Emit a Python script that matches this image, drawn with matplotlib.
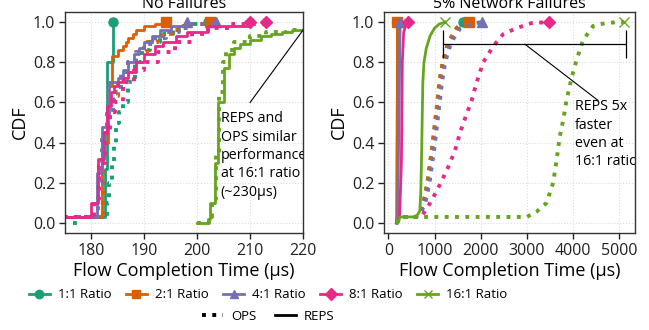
import matplotlib
matplotlib.use("Agg")
import matplotlib.pyplot as plt
from matplotlib.lines import Line2D

plt.rcParams['font.family'] = ['Open Sans', 'DejaVu Sans']

ratio_labels = ["1:1 Ratio", "2:1 Ratio", "4:1 Ratio", "8:1 Ratio", "16:1 Ratio"]
ratio_colors = ["#1b9e77", "#d95f02", "#7570b3", "#e7298a", "#66a61e"]
ratio_markers = ["o", "s", "^", "D", "x"]

# --- No Failures: step CDFs (FCT in us, CDF value)
nf_reps_x = [
    [172, 174, 182.5, 183.0, 184.0],
    [172, 174, 181.9, 183.1, 183.8, 185, 186, 186.5, 187, 187.8, 188.5, 190, 192, 194],
    [172, 174, 181.0, 181.9, 183.0, 183.3, 185.0, 186, 187, 188, 189, 190, 191.5, 193, 195, 198],
    [172, 174, 179.9, 181.3, 182.3, 183.0, 183.6, 184.2, 185, 186, 187, 188.5, 190, 192, 193.5, 196, 198, 202, 210],
    [200, 202.0, 202.5, 203.3, 204.0, 205.0, 206, 207, 208, 210, 212, 214, 216, 218, 220, 230],
]
nf_reps_y = [
    [0.0, 0.03, 0.27, 0.80, 1.0],
    [0.0, 0.03, 0.40, 0.68, 0.83, 0.86, 0.88, 0.90, 0.92, 0.94, 0.96, 0.98, 0.99, 1.0],
    [0.0, 0.03, 0.25, 0.48, 0.52, 0.70, 0.72, 0.76, 0.80, 0.84, 0.87, 0.90, 0.93, 0.96, 0.98, 1.0],
    [0.0, 0.03, 0.10, 0.32, 0.45, 0.58, 0.65, 0.68, 0.70, 0.72, 0.75, 0.80, 0.84, 0.88, 0.90, 0.93, 0.95, 0.98, 1.0],
    [0.0, 0.02, 0.10, 0.30, 0.60, 0.77, 0.84, 0.87, 0.89, 0.91, 0.93, 0.94, 0.95, 0.96, 0.965, 1.0],
]
nf_ops_x = [
    [176.5, 177.2, 183.0, 183.4, 183.8, 184.2, 184.6, 185.2, 186.0, 187.0, 188.3, 189.5, 191, 193, 195.5, 198, 202],
    [172, 174, 182.2, 183.2, 184.2, 185.0, 186, 187, 188.5, 190.5, 192.5, 195, 197, 199, 202.5],
    [172, 174, 181.3, 182.0, 183.0, 184.0, 185.5, 187, 188.5, 190, 192, 194, 196.5, 199, 203.5],
    [172, 174, 180.5, 181.5, 182.5, 183.5, 184.5, 186, 188, 190, 192.5, 195.7, 199, 202, 206, 213],
    [200, 202.2, 202.7, 203.5, 204.2, 204.8, 205.5, 207, 210, 213, 217, 221, 230],
]
nf_ops_y = [
    [0.0, 0.03, 0.10, 0.20, 0.30, 0.40, 0.50, 0.55, 0.60, 0.70, 0.80, 0.86, 0.90, 0.94, 0.97, 0.99, 1.0],
    [0.0, 0.03, 0.45, 0.55, 0.63, 0.70, 0.75, 0.80, 0.85, 0.90, 0.93, 0.96, 0.98, 0.99, 1.0],
    [0.0, 0.03, 0.20, 0.45, 0.55, 0.65, 0.75, 0.80, 0.85, 0.89, 0.92, 0.95, 0.97, 0.99, 1.0],
    [0.0, 0.03, 0.12, 0.30, 0.45, 0.55, 0.60, 0.70, 0.76, 0.80, 0.85, 0.90, 0.94, 0.97, 0.99, 1.0],
    [0.0, 0.03, 0.12, 0.35, 0.65, 0.80, 0.86, 0.90, 0.93, 0.95, 0.96, 0.97, 1.0],
]

# --- 5% Network Failures: CDFs (FCT in us, CDF value)
f_reps_x = [
    [170, 180, 190, 200, 210],
    [175, 185, 190, 195],
    [180, 200, 230, 253],
    [180, 240, 280, 300, 330, 380, 433],
    [200, 250, 600, 680, 700, 715, 730, 745, 770, 820, 900, 1000, 1100, 1227],
]
f_reps_y = [
    [0.0, 0.03, 0.5, 0.97, 1.0],
    [0.0, 0.03, 0.5, 1.0],
    [0.0, 0.03, 0.6, 1.0],
    [0.0, 0.03, 0.3, 0.8, 0.95, 0.99, 1.0],
    [0.0, 0.03, 0.03, 0.06, 0.15, 0.30, 0.50, 0.70, 0.80, 0.87, 0.93, 0.97, 0.99, 1.0],
]
f_ops_x = [
    [180, 250, 600, 700, 758, 844, 903, 961, 1011, 1061, 1104, 1177, 1299, 1480, 1620],
    [180, 250, 600, 700, 758, 844, 903, 961, 1011, 1061, 1104, 1177, 1299, 1480, 1640, 1740],
    [180, 250, 600, 720, 800, 890, 950, 1010, 1060, 1110, 1160, 1230, 1360, 1560, 1780, 2020],
    [180, 250, 700, 800, 903, 1047, 1155, 1299, 1443, 1552, 1660, 1804, 1913, 2056, 2273, 2489, 2779, 3104, 3485],
    [180, 250, 3000, 3212, 3428, 3572, 3645, 3716, 3788, 3861, 3969, 4078, 4221, 4437, 4700, 5015, 5110],
]
f_ops_y = [
    [0.0, 0.03, 0.03, 0.06, 0.1, 0.2, 0.3, 0.4, 0.5, 0.6, 0.7, 0.8, 0.9, 0.97, 1.0],
    [0.0, 0.03, 0.03, 0.06, 0.1, 0.2, 0.3, 0.4, 0.5, 0.6, 0.7, 0.8, 0.9, 0.97, 0.995, 1.0],
    [0.0, 0.03, 0.03, 0.06, 0.1, 0.2, 0.3, 0.4, 0.5, 0.6, 0.7, 0.8, 0.9, 0.97, 0.99, 1.0],
    [0.0, 0.03, 0.03, 0.06, 0.10, 0.16, 0.21, 0.28, 0.36, 0.45, 0.52, 0.61, 0.70, 0.80, 0.88, 0.94, 0.97, 0.995, 1.0],
    [0.0, 0.03, 0.03, 0.056, 0.10, 0.20, 0.31, 0.43, 0.51, 0.61, 0.72, 0.81, 0.91, 0.98, 0.995, 1.0, 1.0],
]

fontsize = 13
tick_size = 11.5

fig = plt.figure(figsize=(6.49, 3.30), dpi=100)
ax1 = fig.add_axes((0.1002, 0.2939, 0.3667, 0.6697))
ax2 = fig.add_axes((0.5917, 0.2939, 0.3867, 0.6697))

for i in range(5):
    c = ratio_colors[i]
    m = ratio_markers[i]
    ms = 7 if m == "x" else 6.5
    ax1.plot(nf_ops_x[i], nf_ops_y[i], drawstyle="steps-post", color=c,
             linestyle=":", linewidth=2.8, marker=m, markevery=[-1], markersize=ms)
    ax1.plot(nf_reps_x[i], nf_reps_y[i], drawstyle="steps-post", color=c,
             linestyle="-", linewidth=2, marker=m, markevery=[-1], markersize=ms)
    ax2.plot(f_ops_x[i], f_ops_y[i], color=c, linestyle=":", linewidth=2.8,
             marker=m, markevery=[-1], markersize=ms)
    ax2.plot(f_reps_x[i], f_reps_y[i], color=c, linestyle="-", linewidth=2,
             marker=m, markevery=[-1], markersize=ms)

ax1.set_xlim(175, 220)
ax2.set_xlim(-97, 5347)
ax1.set_xticks([180, 190, 200, 210, 220])
ax2.set_xticks([0, 1000, 2000, 3000, 4000, 5000])
for ax, title in ((ax1, "No Failures"), (ax2, "5% Network Failures")):
    ax.set_ylim(-0.05, 1.05)
    ax.set_yticks([0.0, 0.2, 0.4, 0.6, 0.8, 1.0])
    ax.grid(True, color="#dddddd", linestyle=":", linewidth=0.8)
    ax.set_axisbelow(True)
    for s in ax.spines.values():
        s.set_color("#333333")
        s.set_linewidth(1.0)
    ax.tick_params(labelsize=tick_size, colors="#222222", length=4, width=1, pad=3)
    ax.set_xlabel("Flow Completion Time (µs)", fontsize=fontsize, labelpad=2)
    ax.set_ylabel("CDF", fontsize=fontsize, labelpad=3)
    ax.set_title(title, fontsize=11.5, pad=3)

# annotations
ax1.plot([220, 210], [0.96, 0.60], color="black", linewidth=0.8, clip_on=False)
ax1.text(204.4, 0.555, "REPS and\nOPS similar\nperformance\nat 16:1 ratio\n(~230µs)",
         fontsize=10.3, va="top", ha="left", linespacing=1.3, clip_on=True)

ax2.errorbar([(1190 + 5145) / 2], [0.89], xerr=[(5145 - 1190) / 2],
             color="black", linewidth=0.9, capsize=10, capthick=0.9)
ax2.plot([2959, 4545], [0.89, 0.61], color="black", linewidth=0.8)
ax2.text(4041, 0.615, "REPS 5x\nfaster\neven at\n16:1 ratio",
         fontsize=10.3, va="top", ha="left", linespacing=1.3, clip_on=True)

ratio_handles = [Line2D([], [], color=ratio_colors[i], marker=ratio_markers[i],
                        linewidth=2, markersize=6) for i in range(5)]
fig.legend(ratio_handles, ratio_labels, loc="center", ncol=5,
           bbox_to_anchor=(0.413, 1 - 295 / 330), frameon=False, fontsize=9.5,
           handlelength=1.6, columnspacing=1.1, handletextpad=0.6)
style_handles = [Line2D([], [], color="black", linestyle=":", linewidth=2.8),
                 Line2D([], [], color="black", linestyle="-", linewidth=2)]
fig.legend(style_handles, ["OPS", "REPS"], loc="center", ncol=2,
           bbox_to_anchor=(0.413, 1 - 316 / 330), frameon=False, fontsize=9.5,
           handlelength=1.6, columnspacing=1.4, handletextpad=0.6)

fig.savefig("out.png", dpi=100)
